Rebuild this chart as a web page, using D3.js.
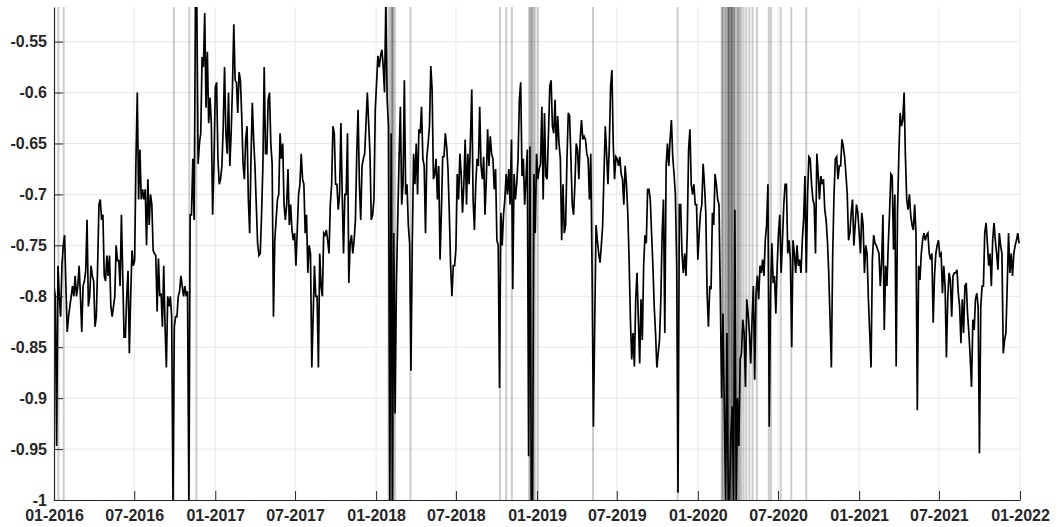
<!DOCTYPE html>
<html>
<head>
<meta charset="utf-8">
<script src="https://cdn.jsdelivr.net/npm/d3@7"></script>
<style>
  body { margin: 0; background: #fff; }
  svg { display: block; }
  .axis text { font-family: "Liberation Sans", Arial, sans-serif; font-weight: bold; font-size: 16px; fill: #262626; }
  .axis path, .axis line { stroke: #262626; }
</style>
</head>
<body>
<div id="vis"></div>
<script>
// series sampled every 3 days from the start date
const startDate = "2016-01-01";
const stepDays = 3;
const values = [
  -0.79,-0.80,-0.947,-0.77,-0.80,-0.82,-0.77,-0.75,-0.74,-0.79,
  -0.835,-0.82,-0.81,-0.80,-0.79,-0.80,-0.78,-0.80,-0.79,-0.77,
  -0.80,-0.835,-0.79,-0.785,-0.775,-0.725,-0.81,-0.80,-0.77,-0.78,
  -0.785,-0.83,-0.82,-0.77,-0.71,-0.705,-0.725,-0.72,-0.78,-0.785,
  -0.76,-0.78,-0.76,-0.81,-0.82,-0.81,-0.80,-0.75,-0.765,-0.765,
  -0.79,-0.72,-0.78,-0.84,-0.84,-0.80,-0.775,-0.856,-0.80,-0.755,
  -0.77,-0.765,-0.666,-0.60,-0.705,-0.656,-0.705,-0.695,-0.705,-0.695,
  -0.75,-0.685,-0.73,-0.70,-0.71,-0.755,-0.758,-0.76,-0.815,-0.763,
  -0.80,-0.797,-0.83,-0.77,-0.83,-0.87,-0.80,-0.81,-0.80,-0.82,
  -1.0,-0.83,-0.82,-0.82,-0.80,-0.795,-0.78,-0.79,-0.80,-0.79,
  -0.80,-0.795,-1.0,-0.72,-0.72,-0.665,-0.725,-0.51,-0.51,-0.67,
  -0.65,-0.64,-0.565,-0.575,-0.522,-0.615,-0.56,-0.63,-0.605,-0.63,
  -0.72,-0.67,-0.595,-0.59,
  -0.665,-0.69,-0.685,-0.672,-0.633,-0.575,-0.64,-0.66,-0.60,-0.672,
  -0.64,-0.594,-0.533,-0.588,-0.59,-0.62,-0.58,-0.588,-0.623,-0.67,
  -0.685,-0.646,-0.633,-0.705,-0.738,-0.665,-0.61,-0.646,-0.672,-0.71,
  -0.748,-0.76,-0.758,-0.72,-0.672,-0.575,-0.66,-0.66,-0.607,-0.60,
  -0.65,-0.67,-0.82,-0.745,-0.725,-0.705,-0.70,-0.64,-0.665,-0.65,
  -0.71,-0.725,-0.71,-0.675,-0.73,-0.71,-0.735,-0.745,-0.738,-0.77,
  -0.735,-0.70,-0.69,-0.66,-0.685,-0.69,-0.738,-0.72,-0.777,-0.75,
  -0.758,-0.87,-0.82,-0.77,-0.80,-0.80,-0.87,-0.758,-0.79,-0.80,
  -0.738,-0.74,-0.735,-0.745,-0.758,-0.71,-0.69,-0.633,-0.64,-0.69,
  -0.69,-0.715,-0.70,-0.63,-0.70,-0.758,-0.70,-0.70,-0.64,-0.787,
  -0.748,-0.74,-0.758,-0.745,-0.725,-0.66,-0.617,-0.69,-0.725,-0.672,
  -0.665,-0.66,-0.63,-0.60,-0.63,-0.66,-0.725,-0.72,-0.705,-0.617,
  -0.59,-0.564,-0.575,-0.564,-0.558,
  -0.574,-0.60,-0.51,-0.607,-0.633,-1.0,-0.64,-1.0,-0.738,-0.915,
  -0.787,-0.725,-0.665,-0.614,-0.71,-0.69,-0.588,-0.70,-0.69,-0.73,
  -0.748,-0.873,-0.748,-0.66,-0.69,-0.65,-0.70,-0.636,-0.64,-0.614,
  -0.665,-0.672,-0.738,-0.663,-0.65,-0.633,-0.574,-0.597,-0.685,-0.68,
  -0.665,-0.705,-0.672,-0.764,-0.718,-0.663,-0.663,-0.64,-0.653,-0.675,
  -0.718,-0.77,-0.80,-0.77,-0.77,-0.754,-0.68,-0.705,-0.66,-0.68,
  -0.718,-0.69,-0.646,-0.71,-0.66,-0.69,-0.646,-0.597,-0.705,-0.735,
  -0.69,-0.665,-0.672,-0.614,-0.672,-0.685,-0.663,-0.72,-0.685,-0.636,
  -0.672,-0.643,-0.66,-0.665,-0.695,-0.675,-0.745,-0.75,-0.89,-0.718,
  -0.75,-0.72,-0.705,-0.68,-0.70,-0.675,-0.71,-0.646,-0.793,-0.68,
  -0.705,-0.69,-0.665,-0.607,-0.59,-0.682,-0.665,-0.71,-0.685,-0.656,
  -0.957,-0.653,-1.0,-1.0,-0.68,-0.738,-0.66,-0.685,-0.675,-0.67,
  -0.614,-0.705,-0.62,-0.682,-0.685,
  -0.64,-0.594,-0.588,-0.633,-0.64,-0.607,-0.656,-0.623,-0.65,-0.665,
  -0.745,-0.69,-0.738,-0.73,-0.665,-0.62,-0.623,-0.665,-0.71,-0.72,
  -0.69,-0.65,-0.656,-0.685,-0.646,-0.627,-0.646,-0.643,-0.646,-0.66,
  -0.665,-0.705,-0.66,-0.777,-0.928,-0.826,-0.73,-0.745,-0.758,-0.767,
  -0.75,-0.73,-0.68,-0.633,-0.66,-0.69,-0.653,-0.594,-0.578,-0.65,
  -0.685,-0.663,-0.665,-0.672,-0.663,-0.68,-0.685,-0.71,-0.672,-0.69,
  -0.718,-0.764,-0.823,-0.862,-0.836,-0.869,-0.803,-0.777,-0.823,-0.866,
  -0.803,-0.843,-0.77,-0.74,-0.748,-0.695,-0.695,-0.705,-0.738,-0.77,
  -0.81,-0.836,-0.87,-0.856,-0.843,-0.803,-0.738,-0.705,-0.836,-0.672,
  -0.65,-0.672,-0.646,-0.627,-0.663,-0.68,-0.70,-0.77,-0.993,-0.71,
  -0.71,-0.758,-0.777,-0.758,-0.78,-0.738,-0.656,-0.636,-0.69,-0.70,
  -0.69,-0.71,-0.71,-0.764,-0.738,-0.718,-0.71,-0.67,-0.69,-0.718,
  -0.797,-0.83,-0.79,-0.793,-0.718,
  -0.73,-0.68,-0.69,-0.705,-0.71,-0.80,-0.90,-0.817,-0.908,-1.0,
  -0.836,-1.0,-1.0,-0.934,-0.908,-1.0,-0.715,-1.0,-0.90,-0.947,
  -0.862,-0.856,-0.823,-0.836,-0.889,-0.803,-0.817,-0.836,-0.866,-0.823,
  -0.79,-0.882,-0.797,-0.78,-0.803,-0.77,-0.777,-0.764,-0.78,-0.745,
  -0.73,-0.69,-0.928,-0.797,-0.748,-0.787,-0.78,-0.817,-0.77,-0.738,
  -0.72,-0.777,-0.745,-0.71,-0.69,-0.69,-0.758,-0.745,-0.764,-0.85,
  -0.745,-0.758,-0.777,-0.75,-0.77,-0.764,-0.777,-0.745,-0.725,-0.682,
  -0.777,-0.70,-0.663,-0.665,-0.69,-0.705,-0.71,-0.758,-0.66,-0.68,
  -0.705,-0.682,-0.69,-0.685,-0.715,-0.725,-0.745,-0.777,-0.823,-0.87,
  -0.758,-0.70,-0.665,-0.663,-0.685,-0.672,-0.672,-0.646,-0.653,-0.663,
  -0.68,-0.70,-0.745,-0.738,-0.718,-0.705,-0.75,-0.73,-0.71,-0.718,
  -0.738,-0.758,-0.718,-0.73,-0.777,-0.75,-0.758,-0.803,-0.836,-0.87,
  -0.764,-0.74,-0.748,-0.75,-0.754,
  -0.758,-0.79,-0.767,-0.72,-0.833,-0.77,-0.79,-0.75,-0.718,-0.68,
  -0.682,-0.754,-0.70,-0.869,-0.718,-0.663,-0.62,-0.633,-0.627,-0.60,
  -0.663,-0.705,-0.715,-0.70,-0.72,-0.73,-0.735,-0.71,-0.738,-0.912,
  -0.77,-0.784,-0.758,-0.745,-0.738,-0.745,-0.74,-0.738,-0.758,-0.764,
  -0.758,-0.826,-0.78,-0.758,-0.75,-0.745,-0.76,-0.758,-0.797,-0.77,
  -0.79,-0.86,-0.803,-0.777,-0.784,-0.82,-0.78,-0.777,-0.777,-0.774,
  -0.797,-0.81,-0.846,-0.803,-0.836,-0.79,-0.787,-0.817,-0.836,-0.86,
  -0.889,-0.823,-0.833,-0.803,-0.797,-0.81,-0.954,-0.81,-0.79,-0.79,
  -0.738,-0.728,-0.748,-0.77,-0.758,-0.79,-0.745,-0.728,-0.745,-0.758,
  -0.774,-0.738,-0.75,-0.758,-0.856,-0.843,-0.836,-0.79,-0.738,-0.777,
  -0.758,-0.78,-0.758,-0.75,-0.745,-0.738,-0.748
];

// event days marked with grey vertical lines
const eventDates = [
  "2016-01-11","2016-01-23","2016-09-29","2016-11-03","2016-11-19",
  "2018-01-29","2018-02-02","2018-02-05","2018-02-06","2018-02-08","2018-02-09","2018-02-13",
  "2018-03-20","2018-10-09","2018-10-23","2018-11-05",
  "2018-12-14","2018-12-17","2018-12-19","2018-12-21","2018-12-24","2018-12-27","2019-01-03",
  "2019-05-08","2019-11-16",
  "2020-02-24","2020-02-26","2020-02-27","2020-03-02","2020-03-04","2020-03-06","2020-03-09",
  "2020-03-10","2020-03-11","2020-03-12","2020-03-13","2020-03-16","2020-03-17","2020-03-18",
  "2020-03-19","2020-03-20","2020-03-23","2020-03-24","2020-03-26","2020-03-30","2020-04-01",
  "2020-04-03","2020-04-06","2020-04-09","2020-04-14","2020-04-20","2020-04-27","2020-05-04",
  "2020-05-14","2020-06-10","2020-06-15","2020-07-07","2020-07-31","2020-09-03"
];

const yTicks = [-1, -0.95, -0.9, -0.85, -0.8, -0.75, -0.7, -0.65, -0.6, -0.55];
const xTickDates = ["2016-01-01","2016-07-01","2017-01-01","2017-07-01","2018-01-01","2018-07-01",
  "2019-01-01","2019-07-01","2020-01-01","2020-07-01","2021-01-01","2021-07-01","2022-01-01"];
const xLimits = ["2016-01-01", "2022-01-01"];
const yLimits = [-1, -0.516];

var width = 1058, height = 527;
var margin = {top: 7, right: 38, bottom: 27, left: 54};

var parse = d3.timeParse("%Y-%m-%d");
var t0 = parse(startDate);
var series = values.map(function(v, i) {
    return {date: d3.timeDay.offset(t0, i * stepDays), value: v};
});

var x = d3.scaleTime()
    .domain(xLimits.map(parse))
    .range([margin.left, width - margin.right]);
var y = d3.scaleLinear()
    .domain(yLimits)
    .range([height - margin.bottom, margin.top]);

var svg = d3.select("#vis").append("svg")
    .attr("width", width)
    .attr("height", height);

svg.append("defs").append("clipPath")
    .attr("id", "plot-clip")
  .append("rect")
    .attr("x", margin.left)
    .attr("y", margin.top)
    .attr("width", width - margin.left - margin.right)
    .attr("height", height - margin.top - margin.bottom);

// grid
var grid = svg.append("g").attr("stroke", "#e8e8e8").attr("stroke-width", 1);
grid.selectAll(".gy").data(yTicks.slice(1)).enter().append("line")
    .attr("x1", margin.left).attr("x2", width - margin.right)
    .attr("y1", function(d) { return y(d); }).attr("y2", function(d) { return y(d); });
grid.selectAll(".gx").data(xTickDates.slice(1)).enter().append("line")
    .attr("y1", margin.top).attr("y2", height - margin.bottom)
    .attr("x1", function(d) { return x(parse(d)); }).attr("x2", function(d) { return x(parse(d)); });

// event markers
svg.append("g")
    .selectAll("line").data(eventDates).enter().append("line")
    .attr("x1", function(d) { return x(parse(d)); })
    .attr("x2", function(d) { return x(parse(d)); })
    .attr("y1", margin.top)
    .attr("y2", height - margin.bottom)
    .attr("stroke", "#000")
    .attr("stroke-opacity", 0.2)
    .attr("stroke-width", 2);

// series
var line = d3.line()
    .x(function(d) { return x(d.date); })
    .y(function(d) { return y(d.value); });

svg.append("path")
    .datum(series)
    .attr("clip-path", "url(#plot-clip)")
    .attr("fill", "none")
    .attr("stroke", "#000")
    .attr("stroke-width", 1.7)
    .attr("d", line);

// axes
var fmtY = function(d) { return String(+d.toFixed(2)); };
var fmtX = d3.timeFormat("%m-%Y");

svg.append("g")
    .attr("class", "axis")
    .attr("transform", "translate(" + margin.left + ",0)")
    .call(d3.axisLeft(y).tickValues(yTicks).tickFormat(fmtY)
        .tickSizeInner(-9).tickSizeOuter(0).tickPadding(7));

svg.append("g")
    .attr("class", "axis")
    .attr("transform", "translate(0," + (height - margin.bottom) + ")")
    .call(d3.axisBottom(x).tickValues(xTickDates.map(parse)).tickFormat(fmtX)
        .tickSizeInner(-9).tickSizeOuter(0).tickPadding(10));

svg.selectAll(".axis .domain").attr("stroke-width", 1.2);
</script>
</body>
</html>
